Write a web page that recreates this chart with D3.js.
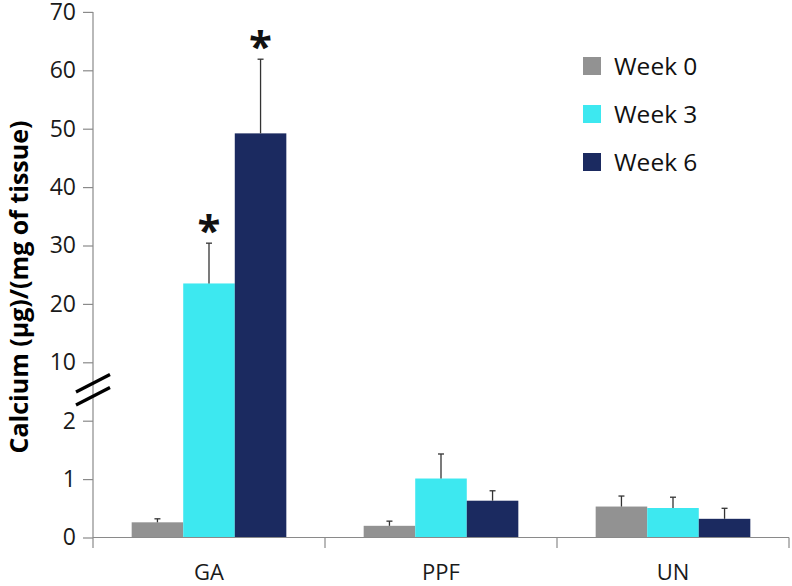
<!DOCTYPE html>
<html>
<head>
<meta charset="utf-8">
<script src="https://cdn.jsdelivr.net/npm/d3@7"></script>
<style>
  html, body { margin: 0; padding: 0; background: #fff; }
  svg { display: block; font-family: "Open Sans", "Noto Sans", sans-serif; }
</style>
</head>
<body>
<svg id="chart" width="792" height="586"></svg>
<script>
const categories = ["GA", "PPF", "UN"];
const seriesNames = ["Week 0", "Week 3", "Week 6"];
const week0 = [0.26, 0.20, 0.53];
const week3 = [23.5, 1.01, 0.505];
const week6 = [49.2, 0.63, 0.32];
const week0Err = [0.06, 0.08, 0.18];
const week3Err = [6.9, 0.42, 0.185];
const week6Err = [12.7, 0.17, 0.18];
const week0Sig = [false, false, false];
const week3Sig = [true, false, false];
const week6Sig = [true, false, false];
const yTickValues = [0, 1, 2, 10, 20, 30, 40, 50, 60, 70];
const colors = ["#929292", "#3de8f0", "#1b2a60"];

const seriesValues = [week0, week3, week6];
const seriesErr = [week0Err, week3Err, week6Err];
const seriesSig = [week0Sig, week3Sig, week6Sig];

const svg = d3.select("#chart");
const axisX = 93, baseY = 537.5;

// broken y scale: 0-2 lower segment, 10-70 upper segment
const y = d3.scaleLinear()
  .domain([0, 2, 10, 70])
  .range([baseY, 420.7, 362.3, 11.9]);

const x0 = d3.scaleBand().domain(categories).range([axisX, 789]).paddingInner(0).paddingOuter(0);
const x1 = d3.scaleBand().domain(seriesNames).range([0, x0.bandwidth()]).paddingInner(0).paddingOuter(0.75);

const data = [];
categories.forEach((c, ci) => {
  seriesNames.forEach((s, si) => {
    data.push({ cat: c, series: s, si, value: seriesValues[si][ci], err: seriesErr[si][ci], sig: seriesSig[si][ci] });
  });
});

// Bars
svg.append("g").selectAll("rect").data(data).join("rect")
  .attr("x", d => x0(d.cat) + x1(d.series))
  .attr("y", d => y(d.value))
  .attr("width", x1.bandwidth())
  .attr("height", d => baseY - y(d.value))
  .attr("fill", d => colors[d.si]);

// Error bars (upper only)
const eg = svg.append("g").attr("stroke", "#333").attr("stroke-width", 1.3);
data.forEach(d => {
  const cx = x0(d.cat) + x1(d.series) + x1.bandwidth() / 2;
  eg.append("line").attr("x1", cx).attr("x2", cx).attr("y1", y(d.value)).attr("y2", y(d.value + d.err));
  eg.append("line").attr("x1", cx - 3).attr("x2", cx + 3).attr("y1", y(d.value + d.err)).attr("y2", y(d.value + d.err));
});

// Significance asterisks
svg.append("g").selectAll("text").data(data.filter(d => d.sig)).join("text")
  .attr("x", d => x0(d.cat) + x1(d.series) + x1.bandwidth() / 2)
  .attr("y", d => y(d.value + d.err) + 2)
  .attr("text-anchor", "middle")
  .attr("font-size", 42)
  .attr("font-weight", "bold")
  .attr("fill", "#111")
  .text("*");

// Y axis
const yAxis = d3.axisLeft(y).tickValues(yTickValues).tickSize(10).tickSizeOuter(0).tickPadding(7).tickFormat(d3.format("d"));
const gy = svg.append("g").attr("transform", `translate(${axisX},0)`).call(yAxis);
gy.select(".domain").remove();
gy.selectAll(".tick line").attr("stroke", "#8a8a8a").attr("stroke-width", 1.2);
gy.selectAll(".tick text").attr("font-size", 23).attr("fill", "#1a1a1a").attr("font-family", "'Open Sans', sans-serif");
svg.append("line").attr("x1", axisX).attr("x2", axisX).attr("y1", y(70)).attr("y2", 548)
  .attr("stroke", "#8a8a8a").attr("stroke-width", 1.2);

// X axis
svg.append("line").attr("x1", axisX).attr("x2", 789).attr("y1", baseY).attr("y2", baseY)
  .attr("stroke", "#8a8a8a").attr("stroke-width", 1.2);
const xg = svg.append("g");
categories.forEach(c => {
  const bx = x0(c) + x0.bandwidth();
  xg.append("line").attr("x1", bx).attr("x2", bx).attr("y1", baseY).attr("y2", 548)
    .attr("stroke", "#8a8a8a").attr("stroke-width", 1.2);
  xg.append("text").attr("x", x0(c) + x0.bandwidth() / 2).attr("y", 579.5)
    .attr("text-anchor", "middle").attr("font-size", 22).attr("fill", "#1a1a1a").text(c);
});

// Axis break marks
const brk = svg.append("g").attr("stroke", "#000").attr("stroke-width", 3.2);
brk.append("line").attr("x1", 76).attr("y1", 392).attr("x2", 110).attr("y2", 374.5);
brk.append("line").attr("x1", 76).attr("y1", 405).attr("x2", 110).attr("y2", 387.5);

// Y label
svg.append("text")
  .attr("transform", "translate(28,287) rotate(-90)")
  .attr("text-anchor", "middle")
  .attr("font-size", 25).attr("font-weight", "bold").attr("fill", "#000")
  .text("Calcium (µg)/(mg of tissue)");

// Legend
const lg = svg.append("g");
seriesNames.forEach((s, i) => {
  lg.append("rect").attr("x", 583).attr("y", 57 + i * 48).attr("width", 18).attr("height", 18).attr("fill", colors[i]);
  lg.append("text").attr("x", 614).attr("y", 75 + i * 48).attr("font-size", 24.5).attr("fill", "#111").text(s);
});
</script>
</body>
</html>
